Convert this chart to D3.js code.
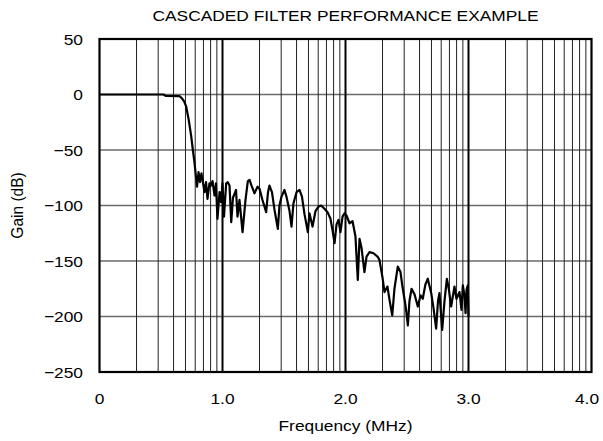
<!DOCTYPE html>
<html>
<head>
<meta charset="utf-8">
<script src="https://cdn.jsdelivr.net/npm/d3@7"></script>
<style>
  body { margin: 0; background: #fff; }
  svg { font-family: "Liberation Sans", Arial, sans-serif; }
</style>
</head>
<body>
<svg width="603" height="441"></svg>
<script>
// frequency (MHz) and gain (dB)
const freq = [0, 0.52, 0.537, 0.65, 0.667, 0.687, 0.705, 0.724, 0.745, 0.759, 0.772, 0.786, 0.793, 0.805, 0.817, 0.829,
  0.854, 0.866, 0.878, 0.894, 0.907, 0.919, 0.935, 0.947, 0.959, 0.976, 0.988, 1.0, 1.012, 1.030, 1.043, 1.057,
  1.071, 1.085, 1.110, 1.122, 1.138, 1.163, 1.187, 1.206, 1.220, 1.236, 1.260, 1.285, 1.301, 1.325, 1.355, 1.370,
  1.382, 1.402, 1.423, 1.450, 1.463, 1.480, 1.504, 1.520, 1.545, 1.561, 1.577, 1.602, 1.626, 1.646, 1.667, 1.694,
  1.707, 1.732, 1.756, 1.780, 1.802, 1.829, 1.854, 1.878, 1.894, 1.911, 1.927, 1.943, 1.959, 1.976, 1.992, 2.008,
  2.033, 2.057, 2.081, 2.100, 2.114, 2.130, 2.154, 2.171, 2.195, 2.228, 2.260, 2.276, 2.301, 2.317, 2.341, 2.358,
  2.380, 2.398, 2.425, 2.447, 2.463, 2.488, 2.507, 2.520, 2.537, 2.561, 2.588, 2.610, 2.628, 2.650, 2.669, 2.697,
  2.715, 2.737, 2.752, 2.764, 2.786, 2.805, 2.824, 2.841, 2.859, 2.886, 2.902, 2.927, 2.943, 2.954, 2.967, 2.976,
  2.984, 2.994, 3.0];
const gain = [0, 0, -1.2, -1.5, -3, -6, -11, -22, -37, -50, -61, -76, -83, -70, -79, -71,
  -88, -79, -94, -80, -82, -78, -91, -80, -112, -88, -97, -80, -110, -80, -79, -82,
  -115, -93, -86, -110, -95, -124, -95, -78, -77, -82, -89, -83, -85, -95, -106, -88,
  -82, -88, -104, -121, -100, -92, -86, -92, -105, -119, -98, -88, -86, -92, -108, -124,
  -107, -119, -105, -101, -100, -103, -106, -112, -122, -134, -117, -113, -124, -110, -107, -109,
  -116, -114, -128, -167, -130, -138, -160, -146, -142, -143, -146, -149, -165, -178, -173, -185,
  -199, -175, -155, -160, -173, -190, -208, -186, -175, -180, -191, -181, -184, -171, -166, -179,
  -192, -211, -186, -179, -212, -186, -166, -176, -191, -173, -184, -178, -194, -172, -181, -197,
  -176, -172, -200];

const xTicks = [0, 1, 2, 3, 4];
const xTickLabels = ["0", "1.0", "2.0", "3.0", "4.0"];
const yTicks = [50, 0, -50, -100, -150, -200, -250];
const yTickLabels = ["50", "0", "\u221250", "\u2212100", "\u2212150", "\u2212200", "\u2212250"];

const svg = d3.select("svg");
const margin = { left: 99.5, right: 11.5, top: 39, bottom: 69 };
const width = 603 - margin.left - margin.right;
const height = 441 - margin.top - margin.bottom;
const fs = 15.5, stretch = 1.12; // the original lettering is a little wide

const x = d3.scaleLinear().domain([0, 4]).range([0, width]);
const y = d3.scaleLinear().domain([-250, 50]).range([height, 0]);

const g = svg.append("g").attr("transform", `translate(${margin.left},${margin.top})`);

// horizontal grid
g.append("g").selectAll("line")
  .data(yTicks.filter(v => v > -250 && v < 50))
  .join("line")
    .attr("x1", 0).attr("x2", width)
    .attr("y1", d => y(d)).attr("y2", d => y(d))
    .attr("stroke", "#6a6a6a").attr("stroke-width", 1.3);

// log-cycle style vertical grid inside each 1 MHz span
const minor = [];
for (let n = 0; n < 4; n++) {
  for (let k = 2; k <= 9; k++) minor.push(n + Math.log10(k));
}
g.append("g").selectAll("line")
  .data(minor)
  .join("line")
    .attr("x1", d => x(d)).attr("x2", d => x(d))
    .attr("y1", 0).attr("y2", height)
    .attr("stroke", "#222").attr("stroke-width", 1);

g.append("g").selectAll("line")
  .data([1, 2, 3])
  .join("line")
    .attr("x1", d => x(d)).attr("x2", d => x(d))
    .attr("y1", 0).attr("y2", height)
    .attr("stroke", "#000").attr("stroke-width", 2);

// frame
g.append("rect")
  .attr("width", width).attr("height", height)
  .attr("fill", "none").attr("stroke", "#000").attr("stroke-width", 2.2);

// trace
const line = d3.line()
  .x((d, i) => x(freq[i]))
  .y(d => y(d));

g.append("path")
  .datum(gain)
  .attr("fill", "none")
  .attr("stroke", "#000")
  .attr("stroke-width", 2.2)
  .attr("stroke-linejoin", "round")
  .attr("d", line);

// tick labels (last one kept inside the page)
g.append("g").selectAll("text")
  .data(xTicks)
  .join("text")
    .attr("transform", d => `translate(${Math.min(x(d), 603 - margin.left - 16)},${height + 32}) scale(${stretch},1)`)
    .attr("text-anchor", "middle").attr("font-size", fs)
    .text((d, i) => xTickLabels[i]);

g.append("g").selectAll("text")
  .data(yTicks)
  .join("text")
    .attr("transform", d => `translate(${83 - margin.left},${y(d) + 5.5}) scale(${stretch},1)`)
    .attr("text-anchor", "end").attr("font-size", fs)
    .text((d, i) => yTickLabels[i]);

svg.append("text")
  .attr("transform", `translate(${margin.left + width / 2},21) scale(${stretch},1)`)
  .attr("text-anchor", "middle").attr("font-size", fs)
  .text("CASCADED FILTER PERFORMANCE EXAMPLE");

svg.append("text")
  .attr("transform", `translate(${margin.left + width / 2},431) scale(${stretch},1)`)
  .attr("text-anchor", "middle").attr("font-size", fs)
  .text("Frequency (MHz)");

svg.append("text")
  .attr("transform", `translate(23,${margin.top + height / 2}) scale(${stretch},1) rotate(-90)`)
  .attr("text-anchor", "middle").attr("font-size", fs)
  .text("Gain (dB)");
</script>
</body>
</html>
